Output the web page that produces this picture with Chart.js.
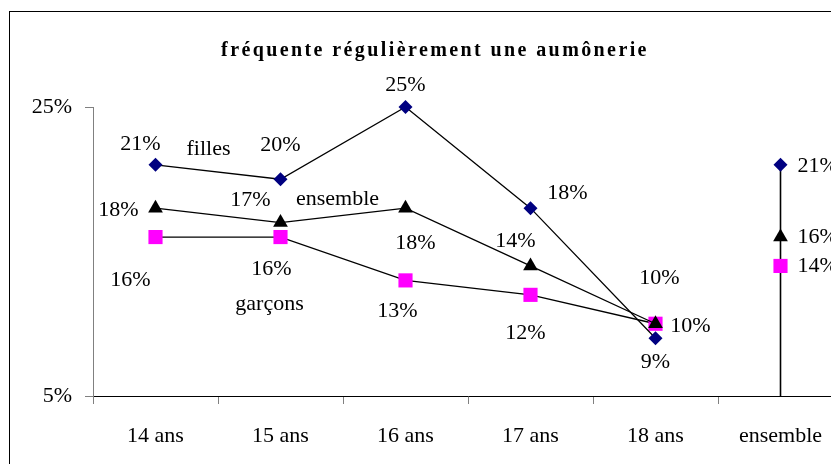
<!DOCTYPE html>
<html>
<head>
<meta charset="utf-8">
<script src="https://cdn.jsdelivr.net/npm/chart.js@4/dist/chart.umd.min.js"></script>
<style>
html, body { margin: 0; padding: 0; background: #fff; overflow: hidden; width: 831px; height: 464px; }
#wrap { position: absolute; left: 0; top: 0; width: 870px; height: 464px; }
#frame { position: absolute; left: 9px; top: 11px; width: 900px; height: 500px; border: 1px solid #000; pointer-events: none; }
</style>
</head>
<body>
<div id="wrap"><canvas id="chart" width="870" height="464"></canvas></div>
<div id="frame"></div>
<script>
// données
const categories = ['14 ans', '15 ans', '16 ans', '17 ans', '18 ans', 'ensemble'];
const filles = [21, 20, 25, 18, 9, 21];
const ensemble = [18, 17, 18, 14, 10, 16];
const garcons = [16, 16, 13, 12, 10, 14];
const yTicks = [5, 25];
const titre = 'fréquente régulièrement une aumônerie';

// placement des étiquettes (décalage en px par rapport au point)
const offFilles = [[-15, -21], [0, -34], [0, -22], [37, -15], [0, 24], [17, 1, 'left']];
const offEnsemble = [[-37, 2], [-30, -22], [10, 35], [-15, -25], [4, -46], [17, 0, 'left']];
const offGarcons = [[-25, 43], [-9, 32], [-8, 31], [-5, 38], [35, 2], [17, 0, 'left']];
// noms des séries : [texte, série, point, dx, dy]
const nomsSeries = [['filles', 0, 0, 53, -16], ['ensemble', 1, 1, 57, -23], ['garçons', 2, 1, -11, 67]];

const police = '"Liberation Serif", "Times New Roman", serif';
const cacherDernier = { borderColor: c => c.p1DataIndex === 5 ? 'rgba(0,0,0,0)' : '#000' };

const etiquettes = {
    id: 'etiquettes',
    afterDatasetsDraw(chart) {
        const ctx = chart.ctx;
        ctx.save();
        ctx.fillStyle = '#000';
        ctx.textBaseline = 'middle';
        ctx.font = '22px ' + police;
        const offs = [offFilles, offEnsemble, offGarcons];
        const vals = [filles, ensemble, garcons];
        offs.forEach((off, i) => {
            const meta = chart.getDatasetMeta(i);
            meta.data.forEach((pt, j) => {
                ctx.textAlign = off[j][2] || 'center';
                ctx.fillText(vals[i][j] + '%', pt.x + off[j][0], pt.y + off[j][1]);
            });
        });
        ctx.textAlign = 'center';
        nomsSeries.forEach(n => {
            const pt = chart.getDatasetMeta(n[1]).data[n[2]];
            ctx.fillText(n[0], pt.x + n[3], pt.y + n[4]);
        });
        // titre
        ctx.font = 'bold 20px ' + police;
        ctx.letterSpacing = '2.4px';
        ctx.fillText(titre, chart.width / 2, 51);
        ctx.restore();
    }
};

const ctx = document.getElementById('chart').getContext('2d');
const chart = new Chart(ctx, {
    type: 'line',
    data: {
        labels: categories,
        datasets: [
            {
                label: 'filles',
                data: filles,
                borderColor: '#000',
                borderWidth: 1.3,
                pointStyle: 'rectRot',
                pointRadius: 7,
                pointBackgroundColor: '#000080',
                pointBorderColor: '#000080',
                pointBorderWidth: 0,
                segment: cacherDernier,
                clip: false
            },
            {
                label: 'ensemble',
                data: ensemble,
                borderColor: '#000',
                borderWidth: 1.3,
                pointStyle: 'triangle',
                pointRadius: 8.5,
                pointBackgroundColor: '#000',
                pointBorderColor: '#000',
                pointBorderWidth: 0,
                segment: cacherDernier,
                clip: false
            },
            {
                label: 'garçons',
                data: garcons,
                borderColor: '#000',
                borderWidth: 1.3,
                pointStyle: 'rect',
                pointRadius: 10,
                pointBackgroundColor: '#FF00FF',
                pointBorderColor: '#FF00FF',
                pointBorderWidth: 0,
                segment: cacherDernier,
                clip: false
            },
            {
                // trait vertical de la colonne "ensemble"
                label: 'trait',
                data: [{ x: 'ensemble', y: yTicks[0] }, { x: 'ensemble', y: filles[5] }],
                borderColor: '#000',
                borderWidth: 1.6,
                pointRadius: 0,
                order: 10,
                clip: false
            }
        ]
    },
    options: {
        responsive: false,
        animation: false,
        layout: { padding: { top: 107, right: 27, left: 0, bottom: 0 } },
        plugins: {
            legend: { display: false },
            tooltip: { enabled: false },
            title: { display: false }
        },
        scales: {
            x: {
                offset: true,
                grid: { offset: true, drawOnChartArea: false, tickLength: 8, tickColor: '#808080' },
                border: { color: '#000', width: 1 },
                ticks: { color: '#000', padding: 19, font: { family: police, size: 22 } },
                afterFit: s => { s.height = 68; }
            },
            y: {
                min: yTicks[0],
                max: yTicks[1],
                afterBuildTicks: s => { s.ticks = yTicks.map(v => ({ value: v })); },
                grid: { drawOnChartArea: false, tickLength: 8, tickColor: '#808080' },
                border: { color: '#808080', width: 1 },
                ticks: { color: '#000', padding: 13, font: { family: police, size: 22 }, callback: v => v + '%' },
                afterFit: s => { s.width = 93; }
            }
        }
    },
    plugins: [etiquettes]
});
</script>
</body>
</html>
